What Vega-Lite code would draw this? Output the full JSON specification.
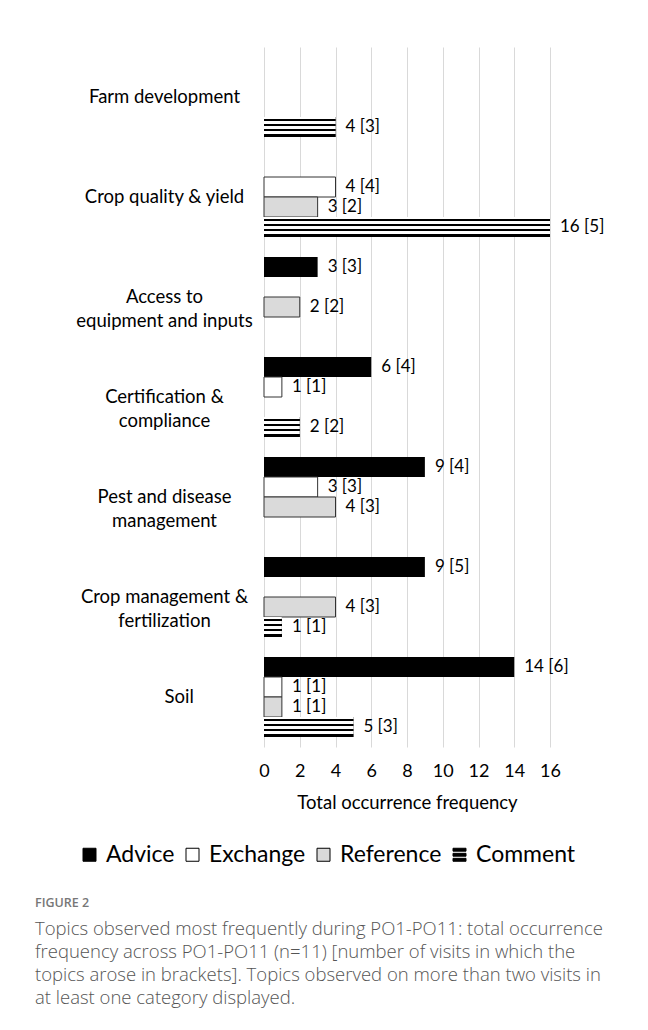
{
  "$schema": "https://vega.github.io/schema/vega-lite/v6.json",
  "width": 286,
  "height": 700,
  "autosize": {"type": "none"},
  "padding": {"left": 264, "top": 47, "right": 98, "bottom": 283},
  "background": "white",
  "config": {"font": "Lato", "view": {"stroke": null}},
  "data": {
    "values": [
      {"topic": "Farm development", "type": "Comment", "value": 4, "label": "4 [3]"},
      {"topic": "Crop quality & yield", "type": "Exchange", "value": 4, "label": "4 [4]"},
      {"topic": "Crop quality & yield", "type": "Reference", "value": 3, "label": "3 [2]"},
      {"topic": "Crop quality & yield", "type": "Comment", "value": 16, "label": "16 [5]"},
      {"topic": "Access to|equipment and inputs", "type": "Advice", "value": 3, "label": "3 [3]"},
      {"topic": "Access to|equipment and inputs", "type": "Reference", "value": 2, "label": "2 [2]"},
      {"topic": "Certification &|compliance", "type": "Advice", "value": 6, "label": "6 [4]"},
      {"topic": "Certification &|compliance", "type": "Exchange", "value": 1, "label": "1 [1]"},
      {"topic": "Certification &|compliance", "type": "Comment", "value": 2, "label": "2 [2]"},
      {"topic": "Pest and disease|management", "type": "Advice", "value": 9, "label": "9 [4]"},
      {"topic": "Pest and disease|management", "type": "Exchange", "value": 3, "label": "3 [3]"},
      {"topic": "Pest and disease|management", "type": "Reference", "value": 4, "label": "4 [3]"},
      {"topic": "Crop management &|fertilization", "type": "Advice", "value": 9, "label": "9 [5]"},
      {"topic": "Crop management &|fertilization", "type": "Reference", "value": 4, "label": "4 [3]"},
      {"topic": "Crop management &|fertilization", "type": "Comment", "value": 1, "label": "1 [1]"},
      {"topic": "Soil", "type": "Advice", "value": 14, "label": "14 [6]"},
      {"topic": "Soil", "type": "Exchange", "value": 1, "label": "1 [1]"},
      {"topic": "Soil", "type": "Reference", "value": 1, "label": "1 [1]"},
      {"topic": "Soil", "type": "Comment", "value": 5, "label": "5 [3]"}
    ]
  },
  "encoding": {
    "y": {
      "field": "topic",
      "type": "nominal",
      "sort": ["Farm development", "Crop quality & yield", "Access to|equipment and inputs", "Certification &|compliance", "Pest and disease|management", "Crop management &|fertilization", "Soil"],
      "scale": {"paddingInner": 0, "paddingOuter": 0},
      "axis": {
        "title": null,
        "domain": false,
        "ticks": false,
        "labelAlign": {"condition": {"test": "datum.value === 'Soil'", "value": "left"}, "value": "center"},
        "labelBaseline": "middle",
        "labelPadding": 100,
        "labelFontSize": 18.5,
        "labelColor": "#000",
        "labelLineHeight": 24,
        "labelLimit": 300,
        "labelExpr": "split(datum.label, '|')"
      }
    },
    "yOffset": {
      "field": "type",
      "type": "nominal",
      "sort": ["Advice", "Exchange", "Reference", "Comment"],
      "scale": {"domain": ["Advice", "Exchange", "Reference", "Comment"], "paddingInner": 0, "paddingOuter": 0.5}
    },
    "x": {
      "field": "value",
      "type": "quantitative",
      "scale": {"domain": [0, 16], "nice": false},
      "axis": {
        "values": [0, 2, 4, 6, 8, 10, 12, 14, 16],
        "title": "Total occurrence frequency",
        "titleFontSize": 18.5,
        "titleFontWeight": "normal",
        "titleColor": "#000",
        "titlePadding": 13,
        "domain": false,
        "ticks": false,
        "grid": true,
        "gridColor": "#d9d9d9",
        "gridWidth": 1,
        "labelFlush": false,
        "labelFontSize": 18,
        "labelColor": "#000",
        "labelPadding": 15
      }
    }
  },
  "layer": [
    {
      "mark": {"type": "bar", "stroke": "#333333"},
      "encoding": {
        "fill": {
          "field": "type",
          "type": "nominal",
          "scale": {"domain": ["Advice", "Exchange", "Reference", "Comment"], "range": ["#000000", "#ffffff", "#dadada", "#000000"]},
          "legend": {
            "title": null,
            "orient": "none",
            "legendX": -186,
            "legendY": 796,
            "direction": "horizontal",
            "symbolType": "square",
            "symbolSize": 169,
            "symbolStrokeColor": "#000",
            "symbolStrokeWidth": 1,
            "labelFontSize": 23,
            "labelColor": "#000",
            "labelOffset": 5,
            "columnPadding": 6,
            "labelLimit": 300,
            "encode": {"symbols": {"update": {"shape": {"signal": "datum.value === 'Comment' ? 'M-1,-1H1V-0.55H-1Z M-1,-0.22H1V0.22H-1Z M-1,0.55H1V1H-1Z' : 'square'"}}}}
          }
        },
        "strokeWidth": {"condition": {"test": "datum.type === 'Comment' || datum.type === 'Advice'", "value": 0}, "value": 1}
      }
    },
    {
      "transform": [{"filter": "datum.type === 'Comment'"}],
      "mark": {
        "type": "bar",
        "fill": {
          "gradient": "linear", "x1": 0, "y1": 0, "x2": 0, "y2": 1,
          "stops": [
            {"offset": 0, "color": "#ffffff"}, {"offset": 0.1, "color": "#ffffff"},
            {"offset": 0.1, "color": "#000000"}, {"offset": 0.2, "color": "#000000"},
            {"offset": 0.2, "color": "#ffffff"}, {"offset": 0.35, "color": "#ffffff"},
            {"offset": 0.35, "color": "#000000"}, {"offset": 0.45, "color": "#000000"},
            {"offset": 0.45, "color": "#ffffff"}, {"offset": 0.61, "color": "#ffffff"},
            {"offset": 0.61, "color": "#000000"}, {"offset": 0.72, "color": "#000000"},
            {"offset": 0.72, "color": "#ffffff"}, {"offset": 0.87, "color": "#ffffff"},
            {"offset": 0.87, "color": "#000000"}, {"offset": 0.98, "color": "#000000"},
            {"offset": 0.98, "color": "#ffffff"}, {"offset": 1, "color": "#ffffff"}
          ]
        }
      }
    },
    {
      "mark": {"type": "text", "align": "left", "baseline": "middle", "dx": 10, "fontSize": 17, "color": "#000"},
      "encoding": {"text": {"field": "label"}}
    }
  ],
  "title": {
    "text": "FIGURE 2",
    "subtitle": [
      "Topics observed most frequently during PO1-PO11: total occurrence",
      "frequency across PO1-PO11 (n=11) [number of visits in which the",
      "topics arose in brackets]. Topics observed on more than two visits in",
      "at least one category displayed."
    ],
    "orient": "bottom",
    "anchor": "start",
    "frame": "group",
    "dx": -229,
    "offset": 30,
    "font": "Open Sans",
    "fontSize": 12.5,
    "fontWeight": 600,
    "color": "#777777",
    "subtitleFont": "Open Sans",
    "subtitleFontSize": 18.5,
    "subtitleFontWeight": 300,
    "subtitleColor": "#555555",
    "subtitleLineHeight": 23,
    "subtitlePadding": 10
  }
}
